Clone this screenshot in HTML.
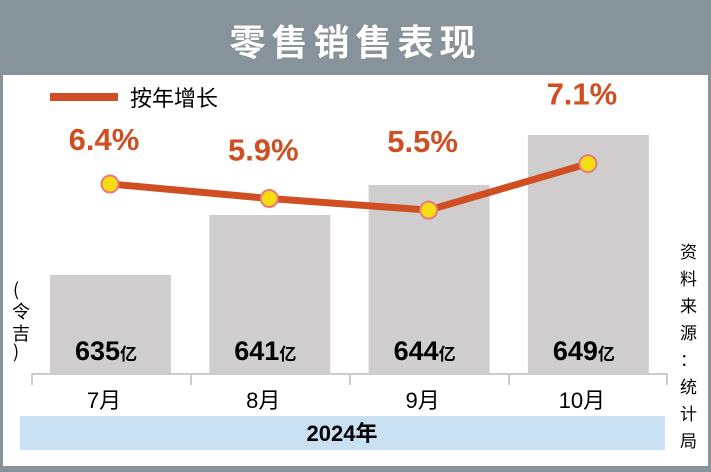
<!DOCTYPE html>
<html><head><meta charset="utf-8">
<style>
body{margin:0;width:711px;height:472px;background:#86939b;overflow:hidden;font-family:"Liberation Sans","Noto Sans CJK SC",sans-serif;}
#title{position:absolute;left:0;top:14px;width:711px;text-align:center;color:#fff;font-size:36px;font-weight:bold;letter-spacing:6px;font-family:"Noto Sans CJK SC",sans-serif;}
#panel{position:absolute;left:3px;top:75px;width:705px;height:391px;background:#fff;}
svg{position:absolute;left:0;top:0;}
</style></head><body>
<div id="title">零售销售表现</div>
<div id="panel"></div>
<svg width="711" height="472" id="chart">
<rect x="20" y="416" width="645" height="34" fill="#c9dff2"/>
<text x="342" y="441" text-anchor="middle" font-size="22" font-weight="bold" font-family="Liberation Sans,Noto Sans CJK SC,sans-serif">2024年</text>
<line x1="50" y1="97" x2="118" y2="97" stroke="#cf4f22" stroke-width="8"/>
<text x="130" y="106" font-size="22" font-family="Noto Sans CJK SC,sans-serif">按年增长</text>
<text font-size="18" font-family="Noto Sans CJK SC,sans-serif"><tspan x="13" y="296">(</tspan><tspan x="12" y="318">令</tspan><tspan x="12" y="340">吉</tspan><tspan x="13" y="358">)</tspan></text>
<text font-size="17" font-family="Noto Sans CJK SC,sans-serif" id="src"></text>
<g id="g"></g>
</svg>
<script>
const months=["7月","8月","9月","10月"];
const sales=[635,641,644,649];
const growth=[6.4,5.9,5.5,7.1];
const growthLabels=["6.4%","5.9%","5.5%","7.1%"];
const NS="http://www.w3.org/2000/svg";
const g=document.getElementById('g');
function xc(i){return 110+i*159.3;}
function ys(v){return 275-(v-635)*10;}
function yg(v){return 184-(v-6.4)*29;}
const base=373;
function mk(t,a){const e=document.createElementNS(NS,t);for(const k in a)e.setAttribute(k,a[k]);g.appendChild(e);return e;}
sales.forEach((v,i)=>{
 const b=mk('rect',{x:xc(i)-60,y:ys(v),width:121,height:base-ys(v),fill:'#d0cdce'});
 
 
 const t=mk('text',{x:xc(i)-4,y:360,'text-anchor':'middle','font-size':27,'font-weight':'bold','font-family':'Liberation Sans,sans-serif'});
 t.innerHTML=v+'<tspan font-size="17" font-family="Noto Sans CJK SC,sans-serif">亿</tspan>';
 
 
 const m=mk('text',{x:xc(i)-6,y:408,'text-anchor':'middle','font-size':22,'font-family':'Liberation Sans,Noto Sans CJK SC,sans-serif'});
 m.textContent=months[i];
 
 
});
const ax=mk('path',{d:'M32 385V374H667V385M191 374V385M350 374V385M509 374V385',stroke:'#ccc',fill:'none','stroke-width':2});


const pts=growth.map((v,i)=>xc(i)+','+yg(v)).join(' ');
const pl=mk('polyline',{points:pts,fill:'none',stroke:'#cf4f22','stroke-width':7,'stroke-linejoin':'round'});


growth.forEach((v,i)=>{
 const c=mk('circle',{cx:xc(i),cy:yg(v),r:8.5,fill:'#f6dc12',stroke:'#e77a7a','stroke-width':2});
 
 
 const lo=[-34,-38,-58,-59][i];
 const t=mk('text',{x:xc(i)-6,y:yg(v)+lo,'text-anchor':'middle','font-size':31,'font-weight':'bold',fill:'#cf4f22','font-family':'Liberation Sans,sans-serif'});
 t.textContent=growthLabels[i];
 
 
});
const src=document.getElementById('src');
"资料来源：统计局".split('').forEach((ch,i)=>{const s=document.createElementNS(NS,'tspan');s.setAttribute('x',680);s.setAttribute('y',258+i*27);s.textContent=ch;src.appendChild(s);});
</script>
</body></html>
